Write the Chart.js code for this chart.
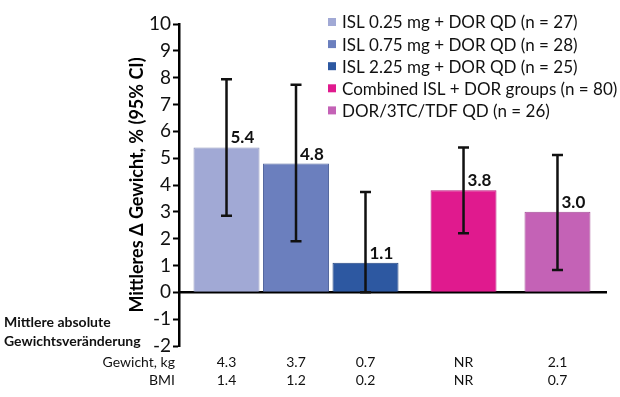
<!DOCTYPE html>
<html>
<head>
<meta charset="utf-8">
<script src="https://cdn.jsdelivr.net/npm/chart.js@4.4.1/dist/chart.umd.min.js"></script>
<style>
html,body{margin:0;padding:0;background:#ffffff;}
#wrap{width:620px;height:397px;position:relative;}
</style>
</head>
<body>
<div id="wrap"><canvas id="chart"></canvas></div>
<script>
// ---- data ----
const armLabels = [
  'ISL 0.25 mg + DOR QD (n = 27)',
  'ISL 0.75 mg + DOR QD (n = 28)',
  'ISL 2.25 mg + DOR QD (n = 25)',
  'Combined ISL + DOR groups (n = 80)',
  'DOR/3TC/TDF QD (n = 26)'
];
const armGroup = [0, 0, 0, 1, 1];            // 0 = ISL + DOR arms, 1 = comparison arms
const meanChange = [5.4, 4.8, 1.1, 3.8, 3.0];
const ciLower = [2.85, 1.9, 0.0, 2.2, 0.83];
const ciUpper = [7.94, 7.74, 3.74, 5.4, 5.12];
const weightKg = ['4.3', '3.7', '0.7', 'NR', '2.1'];
const bmiValues = ['1.4', '1.2', '0.2', 'NR', '0.7'];
const yTickValues = [-2, -1, 0, 1, 2, 3, 4, 5, 6, 7, 8, 9, 10];
const tableRowLabels = ['Gewicht, kg', 'BMI'];
const sideNote = ['Mittlere absolute', 'Gewichtsveränderung'];
const yTitle = 'Mittleres \u0394 Gewicht, % (95% CI)';

// ---- styles ----
const barColors = ['#A1A9D5', '#6B7FBE', '#2D58A1', '#E01A8E', '#C462B6'];
const barBorders = ['#8C93BD', '#56699F', '#244783', '#BA167A', '#A44F97'];
const groupBarStyle = [
  {categoryPercentage: 0.972, barPercentage: 0.95},
  {categoryPercentage: 0.876, barPercentage: 0.702}
];
const FONT = 'Lato';
Chart.defaults.font.family = FONT;
Chart.defaults.color = '#111';

const datasets = armLabels.map((label, i) => ({
  label: label,
  data: [{x: armGroup[i], y: meanChange[i]}],
  backgroundColor: barColors[i],
  borderColor: barBorders[i],
  borderWidth: 1,
  categoryPercentage: groupBarStyle[armGroup[i]].categoryPercentage,
  barPercentage: groupBarStyle[armGroup[i]].barPercentage
}));

const annotations = {
  id: 'annotations',
  afterDatasetsDraw(chart) {
    const {ctx} = chart;
    const y = chart.scales.y;
    ctx.save();
    chart.data.datasets.forEach((ds, i) => {
      const bar = chart.getDatasetMeta(i).data[0];
      const x = bar.x;
      const yHi = y.getPixelForValue(ciUpper[i]);
      const yLo = y.getPixelForValue(ciLower[i]);
      ctx.strokeStyle = '#111';
      ctx.lineWidth = 2.5;
      ctx.beginPath();
      ctx.moveTo(x, yHi); ctx.lineTo(x, yLo);
      ctx.moveTo(x - 5.5, yHi); ctx.lineTo(x + 5.5, yHi);
      ctx.moveTo(x - 5.5, yLo); ctx.lineTo(x + 5.5, yLo);
      ctx.stroke();
      ctx.fillStyle = '#111';
      ctx.font = 'bold 17px ' + FONT;
      ctx.textAlign = 'left';
      ctx.textBaseline = 'alphabetic';
      ctx.fillText(meanChange[i].toFixed(1), x + 4, bar.y - 4);
    });
    ctx.restore();
  },
  afterDraw(chart) {
    const {ctx, chartArea} = chart;
    ctx.save();
    // table below the chart
    ctx.fillStyle = '#111';
    ctx.font = '14px ' + FONT;
    ctx.textBaseline = 'middle';
    const rowY = [chartArea.bottom + 16.5, chartArea.bottom + 34.5];
    ctx.textAlign = 'right';
    tableRowLabels.forEach((t, r) => ctx.fillText(t, chartArea.left - 4, rowY[r]));
    ctx.textAlign = 'center';
    chart.data.datasets.forEach((ds, i) => {
      const x = chart.getDatasetMeta(i).data[0].x;
      ctx.fillText(weightKg[i], x, rowY[0]);
      ctx.fillText(bmiValues[i], x, rowY[1]);
    });
    // side note
    ctx.font = 'bold 14px ' + FONT;
    ctx.textAlign = 'left';
    ctx.fillText(sideNote[0], 4, chartArea.bottom - 24);
    ctx.fillText(sideNote[1], 4, chartArea.bottom - 5);
    // legend
    ctx.font = '17px ' + FONT;
    chart.data.datasets.forEach((ds, i) => {
      const cy = 22 + i * 22.1;
      ctx.fillStyle = ds.backgroundColor;
      ctx.fillRect(328, cy - 4, 8, 8);
      ctx.fillStyle = '#111';
      ctx.fillText(ds.label, 342, cy + 1);
    });
    ctx.restore();
  }
};

new Chart(document.getElementById('chart'), {
  type: 'bar',
  data: {datasets: datasets},
  options: {
    responsive: true,
    maintainAspectRatio: false,
    devicePixelRatio: 1,
    animation: false,
    skipNull: true,
    layout: {padding: {left: 0, right: 14, top: 24, bottom: 51}},
    plugins: {legend: {display: false}, tooltip: {enabled: false}},
    scales: {
      x: {
        type: 'linear',
        offset: false,
        min: -0.5455,
        max: 1.4452,
        position: {y: 0},
        z: 1,
        ticks: {display: false, count: 2},
        grid: {display: false, offset: false},
        border: {display: true, color: '#000', width: 2.5}
      },
      y: {
        min: -2,
        max: 10,
        afterBuildTicks: (s) => { s.ticks = yTickValues.map(v => ({value: v})); },
        afterFit: (s) => { s.width = 179; },
        ticks: {font: {size: 19}, color: '#111', padding: 2},
        grid: {display: true, drawOnChartArea: false, drawTicks: true, tickLength: 6, tickWidth: 2, tickColor: '#000'},
        border: {display: true, color: '#000', width: 2.5},
        title: {display: true, text: yTitle, color: '#000', font: {size: 18, weight: 'bold'}, padding: {top: 126, bottom: 0}}
      }
    }
  },
  plugins: [annotations]
});
</script>
</body>
</html>
